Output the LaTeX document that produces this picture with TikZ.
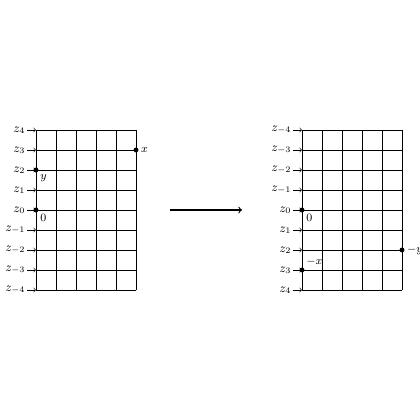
\documentclass[tikz,border=0pt]{standalone}
\usepackage{amsmath}
\usetikzlibrary{arrows.meta,positioning}

\begin{document}
\begin{tikzpicture}[x=0.5cm, y=0.5cm,
    gridline/.style={thin, black, step=1},
    zlabel/.style={left, inner sep=1pt, font=\small},
    tick/.style={->, >=to, thin},
    dot/.style={circle, fill=black, inner sep=0pt, minimum size=3.5pt},
    ptlabel/.style={inner sep=1.5pt, font=\footnotesize},
    bigarrow/.style={->, thick, >=to}
]
\useasboundingbox (-1.8,-6.5) rectangle (19.2,14.5);

% Left lattice
\draw[gridline] (0,0) grid (5,8);
\foreach \k/\z in {0/-4,1/-3,2/-2,3/-1,4/0,5/1,6/2,7/3,8/4} {
    \coordinate (L\k) at (0,\k);
    \node[zlabel] (lz\k) at (-0.45,\k) {$z_{\z}$};
    \draw[tick] (lz\k.east) -- (L\k);
}

% Points on the left
\node[dot] (x) at (5,7) {};
\node[ptlabel, right=0pt of x] (xlab) {$x$};
\node[dot] (y) at (0,6) {};
\node[ptlabel, below right=0pt and 0pt of y] (ylab) {$y$};
\node[dot] (o1) at (0,4) {};
\node[ptlabel, below right=0pt and 0pt of o1] (o1lab) {$0$};

% Map arrow
\coordinate (mapstart) at (6.7,4);
\coordinate (mapend) at (10.3,4);
\draw[bigarrow] (mapstart) -- (mapend);

% Right lattice
\begin{scope}[xshift=6.65cm]
\draw[gridline] (0,0) grid (5,8);
\foreach \k/\z in {0/4,1/3,2/2,3/1,4/0,5/-1,6/-2,7/-3,8/-4} {
    \coordinate (R\k) at (0,\k);
    \node[zlabel] (rz\k) at (-0.45,\k) {$z_{\z}$};
    \draw[tick] (rz\k.east) -- (R\k);
}

% Points on the right
\node[dot] (my) at (5,2) {};
\node[ptlabel, right=0pt of my] (mylab) {$-y$};
\node[dot] (mx) at (0,1) {};
\node[ptlabel, above right=0pt and 0pt of mx] (mxlab) {$-x$};
\node[dot] (o2) at (0,4) {};
\node[ptlabel, below right=0pt and 0pt of o2] (o2lab) {$0$};
\end{scope}

\end{tikzpicture}
\end{document}
